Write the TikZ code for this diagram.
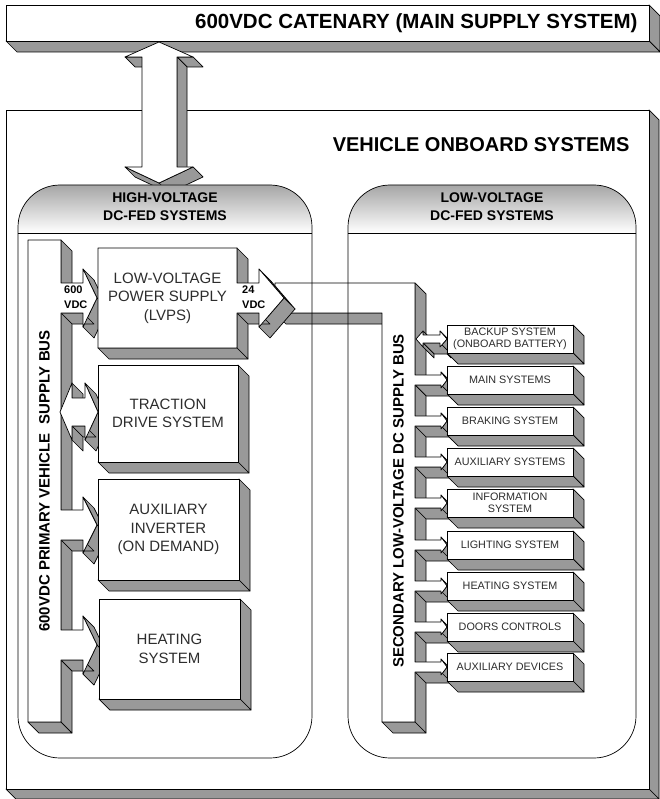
\documentclass[tikz,border=0pt]{standalone}
\usepackage{fontspec}
\setmainfont{Liberation Sans}
\definecolor{shadegray}{RGB}{153,153,153}
\definecolor{txtgray}{RGB}{45,45,45}
\tikzset{
  sideface/.style={fill=shadegray, draw=black, line width=0.7pt, line join=round},
  frontface/.style={fill=white, draw=black, line width=0.7pt, line join=round},
  grpline/.style={draw=black, line width=0.7pt},
  boxtxt/.style={font=\fontsize{15}{18.5}\selectfont, text=txtgray, align=center},
  smalltxt/.style={font=\fontsize{10.8}{12.5}\selectfont, text=txtgray, align=center},
  hdrtxt/.style={font=\bfseries\fontsize{14}{18}\selectfont, align=center},
  bustxt/.style={font=\bfseries\fontsize{15}{18}\selectfont, rotate=90},
  vdctxt/.style={font=\bfseries\fontsize{11}{15}\selectfont, align=left, anchor=west, inner sep=0pt},
}
% one side face of an extruded polygon, drawn only if it faces the viewer
\newcommand\solface[5]{%
  \pgfmathtruncatemacro\solVIS{((#4)-(#2))-((#3)-(#1))>0}%
  \ifnum\solVIS=1
    \filldraw[sideface] (#1,#2) -- (#3,#4) -- (#3+#5,#4+#5) -- (#1+#5,#2+#5) -- cycle;%
  \fi}
% extruded polygon: #1 depth, #2 list of x/y points (clockwise on screen)
\newcommand\solid[2]{%
  \gdef\solPATH{}%
  \foreach \x/\y [count=\i] in {#2}{%
    \ifnum\i=1
      \xdef\solPATH{(\x,\y)}\xdef\solFX{\x}\xdef\solFY{\y}%
    \else
      \solface{\solPX}{\solPY}{\x}{\y}{#1}%
      \xdef\solPATH{\solPATH -- (\x,\y)}%
    \fi
    \xdef\solPX{\x}\xdef\solPY{\y}%
  }%
  \solface{\solPX}{\solPY}{\solFX}{\solFY}{#1}%
  \edef\solTMP{\noexpand\filldraw[frontface] \solPATH -- cycle;}\solTMP
}
\newcommand\boxsolid[5]{\solid{#5}{#1/#2, #3/#2, #3/#4, #1/#4}}
\begin{document}
\begin{tikzpicture}[x=1pt, y=-1pt]
\useasboundingbox (0,0) rectangle (660,799);

% catenary bar and vehicle box
\boxsolid{6}{5}{649}{41}{11}
\boxsolid{6}{110}{649}{789}{10}

% vertical double arrow between catenary and onboard systems
\solid{10}{159/42, 193/57, 177/57, 177/167, 193/167, 159/183, 125/167, 142/167, 142/57, 125/57}

% groups
\foreach \gx/\gw in {18/312, 348/636}{
  \fill[white, rounded corners=42pt] (\gx,758) -- (\gx,185) -- (\gw,185) -- (\gw,758) -- cycle;
  \begin{scope}
    \clip[rounded corners=42pt] (\gx,758) -- (\gx,185) -- (\gw,185) -- (\gw,758) -- cycle;
    \shade[top color=gray!70, bottom color=white] (\gx,185) rectangle (\gw,233);
  \end{scope}
}

% low-voltage bar and secondary bus
\solid{11}{275/283, 415/283,
  415/375, 441/375, 441/372, 447/380, 441/388, 441/385, 415/385,
  415/416, 441/416, 441/413, 447/421, 441/429, 441/426, 415/426,
  415/457, 441/457, 441/454, 447/462, 441/470, 441/467, 415/467,
  415/498, 441/498, 441/495, 447/503, 441/511, 441/508, 415/508,
  415/540, 441/540, 441/537, 447/545, 441/553, 441/550, 415/550,
  415/581, 441/581, 441/578, 447/586, 441/594, 441/591, 415/591,
  415/622, 441/622, 441/619, 447/627, 441/635, 441/632, 415/632,
  415/662, 441/662, 441/659, 447/667, 441/675, 441/672, 415/672,
  415/722, 382/722, 382/313, 275/313}

% primary bus with feeder arrows
\solid{11}{28/240, 61/240, 61/283, 83/283, 83/269, 97/298, 83/327, 83/313, 61/313,
  61/510, 83/510, 83/497, 97/525, 83/553, 83/540, 61/540,
  61/630, 83/630, 83/616, 97/645, 83/674, 83/660, 61/660,
  61/722, 28/722}

% LVPS with 24 VDC output arrow
\solid{11}{98/248, 237/248, 237/283, 259/283, 259/269, 284/298, 259/327, 259/313, 237/313, 237/348, 98/348}

% traction double arrow and boxes
\solid{11}{60/412, 72/383, 72/398, 85/398, 85/383, 98/412, 85/440, 85/426, 72/426, 72/440}
\boxsolid{98}{365}{238}{462}{11}
\boxsolid{98}{479}{239}{580}{11}
\boxsolid{99}{599}{240}{699}{11}

% backup double arrow
\solid{11}{416/339, 423/331, 423/335, 440/335, 440/331, 447/339, 440/347, 440/343, 423/343, 423/347}

% small low-voltage boxes
\foreach \t/\lbl [count=\n] in {325/{BACKUP SYSTEM\\(ONBOARD BATTERY)}, 366/{MAIN SYSTEMS},
  407/{BRAKING SYSTEM}, 448/{AUXILIARY SYSTEMS}, 489/{INFORMATION\\SYSTEM},
  531/{LIGHTING SYSTEM}, 572/{HEATING SYSTEM}, 613/{DOORS CONTROLS}, 653/{AUXILIARY DEVICES}}{
  \pgfmathtruncatemacro\tb{\t+28}
  \boxsolid{447}{\t}{573}{\tb}{11}
  \node[smalltxt] (sb\n) at (510,\t+14) {\lbl};
}

% group outlines on top
\foreach \gx/\gw in {18/312, 348/636}{
  \draw[grpline, rounded corners=42pt] (\gx,758) -- (\gx,185) -- (\gw,185) -- (\gw,758) -- cycle;
  \draw[grpline] (\gx,233) -- (\gw,233);
}

% texts
\node[font=\bfseries\fontsize{20.5}{24}\selectfont, anchor=east] (cat) at (641,23) {600VDC CATENARY (MAIN SUPPLY SYSTEM)};
\node[font=\bfseries\fontsize{20}{24}\selectfont, anchor=east] (veh) at (633,145) {VEHICLE ONBOARD SYSTEMS};
\node[hdrtxt] (hvh) at (165,207) {HIGH-VOLTAGE\\DC-FED SYSTEMS};
\node[hdrtxt] (lvh) at (492,207) {LOW-VOLTAGE\\DC-FED SYSTEMS};
\node[bustxt] (hvbus) at (44.5,481) {600VDC PRIMARY VEHICLE\ \ SUPPLY BUS};
\node[bustxt] (lvbus) at (398.5,501) {SECONDARY LOW-VOLTAGE DC SUPPLY BUS};
\node[vdctxt] (v600) at (64,297) {600\\VDC};
\node[vdctxt] (v24) at (242,297) {24\\VDC};
\node[boxtxt] (lvps) at (167.5,298) {LOW-VOLTAGE\\POWER SUPPLY\\(LVPS)};
\node[boxtxt] (trac) at (168,413.5) {TRACTION\\DRIVE SYSTEM};
\node[boxtxt] (aux) at (168.5,529.5) {AUXILIARY\\INVERTER\\(ON DEMAND)};
\node[boxtxt] (heat) at (169.5,649) {HEATING\\SYSTEM};
\end{tikzpicture}
\end{document}
